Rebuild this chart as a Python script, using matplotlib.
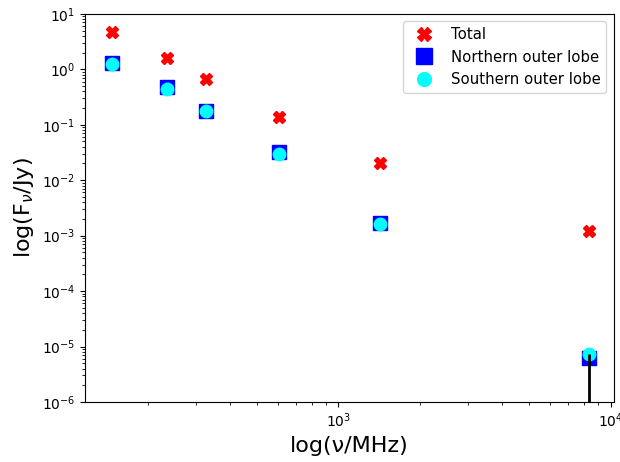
import matplotlib
matplotlib.use('Agg')
import matplotlib.pyplot as plt
import numpy as np

# frequencies (MHz) and flux densities (Jy)
freq = [147, 235, 325, 607, 1420, 8340]
total = [4.7, 1.6, 0.66, 0.14, 0.0202, 0.00122]
north = [1.29, 0.475, 0.18, 0.0328, 0.00168, 6.3e-6]
south = [1.25, 0.44, 0.178, 0.030, 0.00165, 7.3e-6]
# lower error on the last southern point only
south_err_lo = [0, 0, 0, 0, 0, 7.3e-6]
south_err_hi = [0, 0, 0, 0, 0, 0]

fig = plt.figure(figsize=(6.2, 4.62), dpi=100)
ax = fig.add_axes([0.137, 0.130, 0.853, 0.840])

ax.plot(freq, total, 'X', color='red', ms=9, ls='none', label='Total')
ax.plot(freq, north, 's', color='blue', ms=10, ls='none', label='Northern outer lobe')
ax.plot(freq, south, 'o', color='cyan', ms=9, ls='none', label='Southern outer lobe')
ax.errorbar(freq, south, yerr=[south_err_lo, south_err_hi], fmt='none',
            ecolor='black', elinewidth=2, zorder=3)

ax.set_xscale('log')
ax.set_yscale('log')
ax.set_xlim(117, 10280)
ax.set_ylim(1e-6, 10)
ax.set_xlabel(r'log(ν/MHz)', fontsize=16)
ax.set_ylabel(r'log(F$_\nu$/Jy)', fontsize=16)
leg = ax.legend(loc='upper right', fontsize=10.7, markerscale=1.1)

fig.savefig('out.png', dpi=100)
